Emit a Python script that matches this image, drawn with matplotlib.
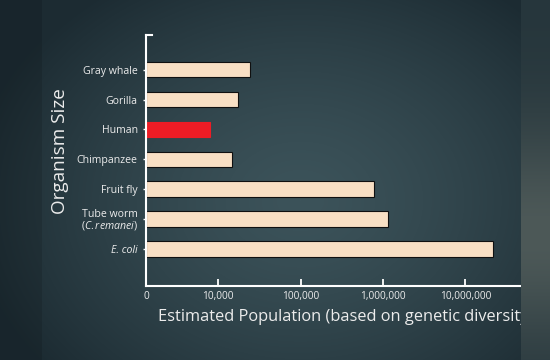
import numpy as np
import matplotlib
matplotlib.use("Agg")
import matplotlib.pyplot as plt
from matplotlib.ticker import FixedLocator, FixedFormatter, NullLocator

plt.rcParams['font.family'] = ['Open Sans', 'DejaVu Sans']
plt.rcParams['mathtext.fontset'] = 'custom'
plt.rcParams['mathtext.rm'] = 'Open Sans'
plt.rcParams['mathtext.it'] = 'Open Sans:italic'

# data, bottom to top
organisms = ["E. coli", "Tube worm\n$\\it{(C.remanei)}$", "Fruit fly", "Chimpanzee",
             "Human", "Gorilla", "Gray whale"]
population = [21800000, 1150000, 787000, 14800, 7900, 17300, 24300]
highlight = "Human"
tick_vals = [1e4, 1e5, 1e6, 1e7]
tick_labels = ["10,000", "100,000", "1,000,000", "10,000,000"]
x_min, x_max = 1325, 4.75e7

W, H = 550, 360
fig = plt.figure(figsize=(W / 100, H / 100), dpi=100)

# background: dark slate with vignette, plus side strips
yy, xx = np.mgrid[0:H, 0:W]
cx, cy = 300, 200
r = np.sqrt(((xx - cx) / 330.0) ** 2 + ((yy - cy) / 260.0) ** 2)
t = np.clip(r, 0, 1) ** 1.4
center = np.array([0x3c, 0x53, 0x5a]) / 255
edge = np.array([0x1c, 0x2b, 0x32]) / 255
bg = center[None, None, :] * (1 - t[..., None]) + edge[None, None, :] * t[..., None]
left = xx < 42
bg[left] = bg[left] * 0.88
ys = np.linspace(0, 1, H)
strip_t = np.exp(-((ys - 0.65) / 0.3) ** 2)
strip = (np.array([0x26, 0x36, 0x3c]) / 255)[None, :] * (1 - strip_t[:, None]) + \
        (np.array([0x4d, 0x59, 0x58]) / 255)[None, :] * strip_t[:, None]
x0 = 521
bg[:, x0:, :] = strip[:, None, :]

bgax = fig.add_axes([0, 0, 1, 1], zorder=-1)
bgax.imshow(bg, aspect='auto', interpolation='bilinear')
bgax.axis('off')

ax = fig.add_axes([146 / W, 1 - 285.7 / H, (x0 - 146) / W, (285.7 - 35) / H])
ax.set_facecolor('none')

pos = np.arange(len(organisms))
widths = [p - x_min for p in population]
colors = ['#ee1c25' if o == highlight else '#f8dfc4' for o in organisms]
edges = ['#ee1c25' if o == highlight else '#101010' for o in organisms]
ax.barh(pos, widths, left=x_min, height=0.52, color=colors, edgecolor=edges,
        linewidth=0.8, zorder=2)

ax.set_xscale('log')
ax.set_xlim(x_min, x_max)
ax.set_ylim(-1.23, 7.16)

ax.xaxis.set_major_locator(FixedLocator([x_min] + tick_vals))
ax.xaxis.set_major_formatter(FixedFormatter(["0"] + tick_labels))
ax.xaxis.set_minor_locator(NullLocator())
ax.tick_params(axis='x', direction='in', length=5, width=1.3, color='white',
               labelcolor='#ececec', labelsize=7.3, pad=4)
ax.set_yticks(pos)
ax.set_yticklabels(organisms)
for lbl in ax.get_yticklabels():
    if lbl.get_text().startswith("E."):
        lbl.set_style('italic')
    if "\n" in lbl.get_text():
        lbl.set_linespacing(0.95)
ax.tick_params(axis='y', direction='out', length=2, width=1, color='white',
               labelcolor='#ececec', labelsize=7.6, pad=4)

for s in ['top', 'right']:
    ax.spines[s].set_visible(False)
for s in ['left', 'bottom']:
    ax.spines[s].set_color('white')
    ax.spines[s].set_linewidth(1.5)
ax.plot([0, 0.016], [1, 1], transform=ax.transAxes, color='white', lw=1.5,
        clip_on=False, solid_capstyle='projecting')

fig.text(60 / W, 1 - 151 / H, "Organism Size", rotation=90, color='#ececec',
         fontsize=13.6, ha='center', va='center')
fig.text(158 / W, 1 - 317 / H, "Estimated Population (based on genetic diversity)",
         color='#ececec', fontsize=11.8, ha='left', va='center')

# right strip drawn over the clipped axis title
sax = fig.add_axes([x0 / W, 0, (W - x0) / W, 1], zorder=10)
sax.imshow(bg[:, x0:, :], aspect='auto', interpolation='bilinear')
sax.axis('off')

fig.savefig("out.png", dpi=100)
